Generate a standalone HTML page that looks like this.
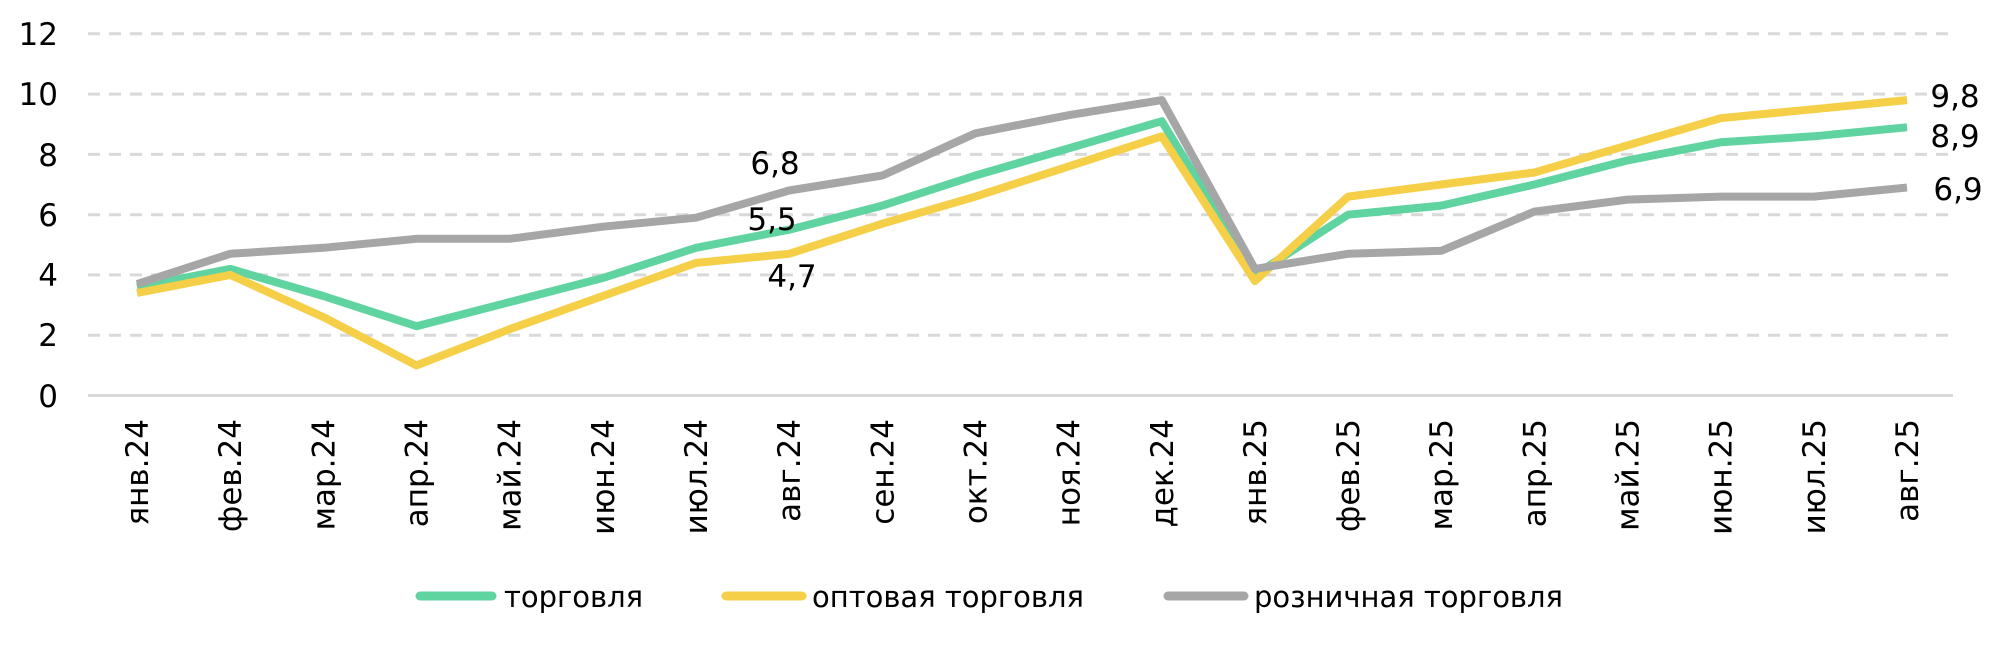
<!DOCTYPE html>
<html><head><meta charset="utf-8"><style>
html,body{margin:0;padding:0;background:#fff;}
svg{display:block;font-family:"DejaVu Sans","Liberation Sans",sans-serif;}
</style></head><body>
<svg width="2000" height="646" viewBox="0 0 2000 646" xmlns="http://www.w3.org/2000/svg">
<g stroke="#d9d9d9" stroke-width="3" stroke-dasharray="12,9">
<line x1="88" x2="1953" y1="33.8" y2="33.8"/>
<line x1="88" x2="1953" y1="94.1" y2="94.1"/>
<line x1="88" x2="1953" y1="154.4" y2="154.4"/>
<line x1="88" x2="1953" y1="214.7" y2="214.7"/>
<line x1="88" x2="1953" y1="274.9" y2="274.9"/>
<line x1="88" x2="1953" y1="335.2" y2="335.2"/>
</g>
<line x1="88" x2="1953" y1="395.5" y2="395.5" stroke="#d9d9d9" stroke-width="3"/>
<g font-size="31" text-anchor="end" fill="#000">
<text x="58" y="45">12</text><text x="58" y="105">10</text><text x="58" y="166">8</text>
<text x="58" y="226">6</text><text x="58" y="286">4</text><text x="58" y="346">2</text><text x="58" y="407">0</text>
</g>
<g font-size="31" fill="#000" text-anchor="end" id="xl"></g>
<g fill="none" stroke-width="8" stroke-linejoin="round">
<polyline id="g" stroke="#5fd3a0"/>
<polyline id="y" stroke="#f5cf47"/>
<polyline id="r" stroke="#a6a6a6"/>
</g>
<g font-size="31" fill="#000" text-anchor="middle">
<text x="775" y="174">6,8</text><text x="772" y="230">5,5</text><text x="792" y="287">4,7</text>
<text x="1955" y="107">9,8</text><text x="1955" y="147">8,9</text><text x="1958" y="200">6,9</text>
</g>
<g stroke-width="9" stroke-linecap="round">
<line x1="420" x2="492" y1="596" y2="596" stroke="#5fd3a0"/>
<line x1="726" x2="802" y1="596" y2="596" stroke="#f5cf47"/>
<line x1="1168" x2="1244" y1="596" y2="596" stroke="#a6a6a6"/>
</g>
<g font-size="29" fill="#000">
<text x="504" y="607">торговля</text>
<text x="812" y="607">оптовая торговля</text>
<text x="1254" y="607">розничная торговля</text>
</g>
</svg>
<script>
var G=[3.6,4.2,3.3,2.3,3.1,3.9,4.9,5.5,6.3,7.3,8.2,9.1,4.0,6.0,6.3,7.0,7.8,8.4,8.6,8.9];
var Y=[3.4,4.0,2.6,1.0,2.2,3.3,4.4,4.7,5.7,6.6,7.6,8.6,3.8,6.6,7.0,7.4,8.3,9.2,9.5,9.8];
var R=[3.7,4.7,4.9,5.2,5.2,5.6,5.9,6.8,7.3,8.7,9.3,9.8,4.2,4.7,4.8,6.1,6.5,6.6,6.6,6.9];
var L=["янв.24","фев.24","мар.24","апр.24","май.24","июн.24","июл.24","авг.24","сен.24","окт.24","ноя.24","дек.24","янв.25","фев.25","мар.25","апр.25","май.25","июн.25","июл.25","авг.25"];
function X(i){return 137+i*93.16;}
function P(a){return a.map(function(v,i){return X(i).toFixed(1)+","+(395.5-30.14*v).toFixed(1);}).join(" ");}
document.getElementById("g").setAttribute("points",P(G));
document.getElementById("y").setAttribute("points",P(Y));
document.getElementById("r").setAttribute("points",P(R));
var xl=document.getElementById("xl"),ns="http://www.w3.org/2000/svg";
L.forEach(function(s,i){var t=document.createElementNS(ns,"text");var x=X(i)+11;
t.setAttribute("transform","translate("+x+",419) rotate(-90)");t.setAttribute("x",0);t.setAttribute("y",0);t.textContent=s;xl.appendChild(t);});
</script>
</body></html>
